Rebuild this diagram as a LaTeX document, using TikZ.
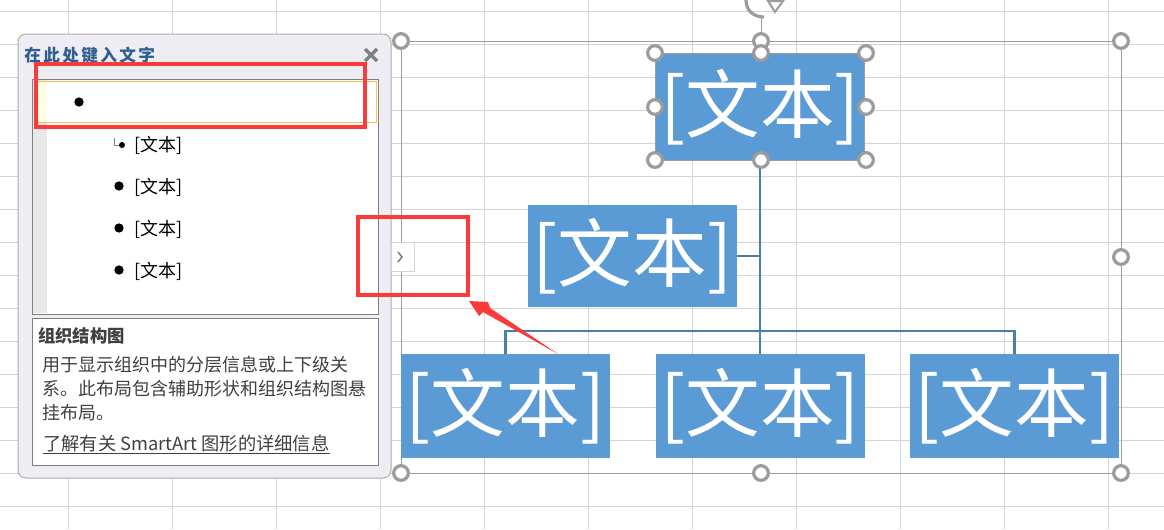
\documentclass[tikz,border=0pt]{standalone}
\usepackage{fontspec}
\setmainfont{Noto Sans CJK SC}
\newfontfamily\titlefont[LetterSpace=14]{Noto Sans CJK SC}
\usepackage{xcolor}
\definecolor{gridgray}{HTML}{D4D4D4}
\definecolor{orgblue}{HTML}{5B9BD5}
\definecolor{linkblue}{HTML}{4A7EAB}
\definecolor{titleblue}{HTML}{2F5F8F}
\definecolor{handlegray}{HTML}{9C9C9C}
\definecolor{markred}{HTML}{FB3B3B}
\definecolor{panelgray}{HTML}{EEEDF4}
\tikzset{%
    orgbox/.style={%
        fill=orgblue, text=white, inner sep=0pt,
        minimum width=156.75pt, minimum height=78pt,
        font=\fontsize{56}{56}\selectfont
    },
    handle/.style={%
        circle, draw=handlegray, fill=white, line width=2.4pt,
        inner sep=0pt, minimum size=11pt
    },
    orgline/.style={linkblue, line width=1.7pt},
    redframe/.style={draw=markred, line width=2.4pt},
    listbox/.style={draw=gray, fill=white, line width=0.7pt},
    bullet/.style={circle, fill=black, inner sep=0pt, minimum size=7pt},
    entry/.style={anchor=west, inner sep=0pt, font=\fontsize{13.5}{13.5}\selectfont}
}

\begin{document}
\begin{tikzpicture}[x=0.75pt,y=-0.75pt]
    \useasboundingbox (0,0) rectangle (1164,529);
    \fill[white] (0,0) rectangle (1164,529);
    % sheet grid
    \foreach \x in {68,172,...,1108}
    {
    \draw[gridgray,line width=0.75pt] (\x,0)--(\x,529);
    }
    \foreach \y in {11,44,...,506}
    {
    \draw[gridgray,line width=0.75pt] (0,\y)--(1164,\y);
    }
    % selection frame
    \draw[handlegray,line width=0.75pt] (401,41) rectangle (1121,473);
    \draw[handlegray,line width=0.75pt] (761,41)--(761,17);
    \draw[handlegray,line width=2.4pt] (746,0) .. controls (746,11) and (754,17) .. (764,17);
    \draw[handlegray,fill=white,line width=1.5pt] (768,1)--(783,1)--(775,12)--cycle;

    % org chart
    \node[orgbox,minimum height=79.5pt] (root) at (760,107) {[文本]};
    \node[orgbox,minimum height=77pt] (assist) at (632.5,256) {[文本]};
    \node[orgbox] (left) at (505.5,406) {[文本]};
    \node[orgbox] (mid) at (760,406) {[文本]};
    \node[orgbox] (right) at (1014.5,406) {[文本]};
    \coordinate (busleft) at (505.5,331);
    \coordinate (busright) at (1014.5,331);
    \draw[orgline] (root.south)--(mid.north);
    \draw[orgline] (assist.east)--(assist.east -| root.south);
    \draw[orgline] (left.north)--(busleft)--(busright)--(right.north);
    \draw[handlegray,line width=0.75pt] (root.north west) rectangle (root.south east);

    % handles
    \foreach \n/\x/\y in {a/401/41,b/761/41,c/1121/41,d/1121/257,e/401/473,f/761/473,g/1121/473,
        h/655/53,i/761/53,j/866/53,k/655/107,l/866/107,m/655/160,n/761/160,o/866/160}
    {
    \node[handle] (handle\n) at (\x,\y) {};
    }

    % text pane
    \draw[fill=panelgray,draw=black!30!gray!50,line width=0.75pt,rounded corners=6pt] (18,34) rectangle (391,478);
    \node[anchor=west,inner sep=0pt,text=titleblue,font=\titlefont\fontsize{12.5}{12.5}\selectfont\bfseries] (panetitle) at (24,55) {在此处键入文字};
    \draw[gray,line width=2.4pt] (365,49)--(377,61);
    \draw[gray,line width=2.4pt] (377,49)--(365,61);
    \draw[listbox] (32,79) rectangle (378,314);
    \fill[black!9] (33,80) rectangle (47,313);
    \fill[yellow!12] (36,81) rectangle (46,122);
    \fill[white] (46,81) rectangle (376,122);
    \draw[orange!70!yellow!70,line width=0.75pt] (36,81) rectangle (376,122);
    \node[bullet] (top) at (79,102) {};
    \node[bullet,minimum size=4.5pt] (sub) at (122,145) {};
    \coordinate (subbend) at (114,145);
    \draw[gray,line width=0.6pt] (114,138)--(subbend)--(sub);
    \node[entry] (subtext) at (134,145) {[文本]};
    \node[bullet] (bulletone) at (119,186) {};
    \node[entry] (textone) at (134,187) {[文本]};
    \node[bullet] (bullettwo) at (119,228) {};
    \node[entry] (texttwo) at (134,229) {[文本]};
    \node[bullet] (bulletthree) at (119,270) {};
    \node[entry] (textthree) at (134,271) {[文本]};

    % description
    \draw[listbox] (32,318) rectangle (378,465);
    \node[entry,text=black!75,font=\fontsize{13}{13}\selectfont\bfseries] (desctitle) at (38,336) {组织结构图};
    \node[entry,text=black!75,align=left,font=\fontsize{13.5}{18}\selectfont] (desc) at (42,389)
        {用于显示组织中的分层信息或上下级关\\系。此布局包含辅助形状和组织结构图悬\\挂布局。};
    \node[entry,text=black!75,font=\fontsize{13.7}{13.7}\selectfont] (desclink) at (43,444) {了解有关 SmartArt 图形的详细信息};
    \draw[black!75,line width=0.6pt] (desclink.south west)++(0,1)--([yshift=-0.75pt]desclink.south east);

    % collapse tab
    \draw[fill=white,draw=gridgray,line width=0.75pt] (391,242) rectangle (414,271);
    \draw[gray,line width=1.2pt] (398,252)--(402,257)--(398,262);

    % red marks
    \draw[redframe] (36,64) rectangle (365,127);
    \draw[redframe] (358,217) rectangle (468,295);
    \coordinate (arrowtip) at (469,301);
    \coordinate (arrowtail) at (558,354);
    \fill[markred] (arrowtip)--(488,302)--(490,308)--(arrowtail)--(483,312)--(479,316)--cycle;
\end{tikzpicture}
\end{document}
